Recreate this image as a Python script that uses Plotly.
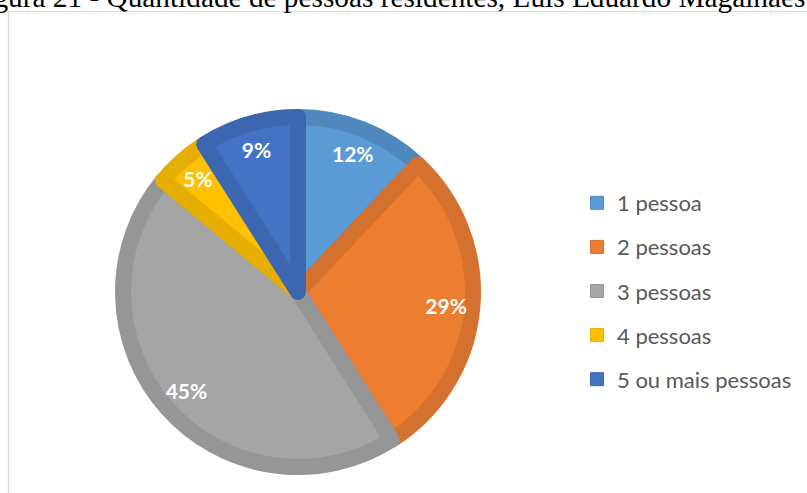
import plotly.graph_objects as go

categories = ["1 pessoa", "2 pessoas", "3 pessoas", "4 pessoas", "5 ou mais pessoas"]
values = [12, 29, 45, 5, 9]
fill_colors = ["#5B9BD5", "#ED7D31", "#A5A5A5", "#FFC000", "#4472C4"]
edge_colors = ["#4F88BF", "#D4712E", "#969696", "#E6AD03", "#3D66B1"]
title_text = "Figura 21 - Quantidade de pessoas residentes, Luís Eduardo Magalhães"

W, H = 807, 493
cx, cy, r = 298, 292, 175
dom_x = [(cx - r) / W, (cx + r) / W]
dom_y = [(H - cy - r) / H, (H - cy + r) / H]

fig = go.Figure()

fig.add_trace(go.Pie(
    labels=categories, values=values, sort=False, direction="clockwise", rotation=0,
    marker=dict(colors=fill_colors, line=dict(color=edge_colors, width=16)),
    textinfo="none", showlegend=False, domain=dict(x=dom_x, y=dom_y),
))

fig.add_trace(go.Pie(
    labels=categories, values=values, sort=False, direction="clockwise", rotation=0,
    hole=0.70,
    marker=dict(colors=["rgba(0,0,0,0)"] * len(values), line=dict(width=0)),
    texttemplate="%{percent:.0%}", textposition="inside", insidetextorientation="horizontal",
    insidetextfont=dict(family="Lato", size=21, color="white", weight="bold"),
    hoverinfo="skip", showlegend=False, domain=dict(x=dom_x, y=dom_y),
))

for i, (name, fc, ec) in enumerate(zip(categories, fill_colors, edge_colors)):
    fig.add_trace(go.Scatter(
        x=[None], y=[None], mode="markers", name=name, legendgroup=f"g{i}",
        marker=dict(symbol="square", size=13, color=fc, line=dict(color=ec, width=1)),
    ))

fig.add_shape(type="rect", xref="paper", yref="paper",
              x0=8.5 / W, x1=1.02, y0=-0.02, y1=1 - 11.5 / H,
              line=dict(color="#D9D9D9", width=1.2), layer="below")

fig.add_annotation(text=title_text, xref="paper", yref="paper", x=807.5 / W, y=1,
                   xanchor="right", yanchor="bottom", yshift=-14.8, showarrow=False,
                   font=dict(family="Liberation Serif", size=29.3, color="black"))

fig.update_layout(
    width=W, height=H, margin=dict(l=0, r=0, t=0, b=0),
    paper_bgcolor="white", plot_bgcolor="white",
    xaxis=dict(visible=False), yaxis=dict(visible=False),
    legend=dict(x=577 / W, y=1 - 182 / H, xanchor="left", yanchor="top",
                font=dict(family="Lato", size=22, color="#595959"),
                tracegroupgap=12.5, bgcolor="rgba(0,0,0,0)"),
)

fig.write_html("out.html", config={"displayModeBar": False},
               post_script="document.body.style.margin='0';document.body.style.overflow='hidden';")
